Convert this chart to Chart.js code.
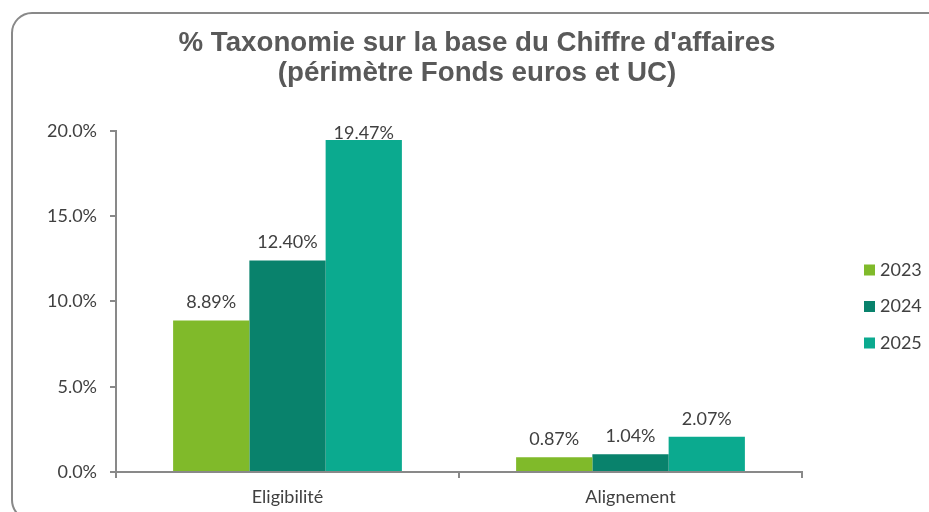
<!DOCTYPE html>
<html>
<head>
<meta charset="utf-8">
<script src="https://cdn.jsdelivr.net/npm/chart.js@4"></script>
<style>
  body { margin: 0; background: #fff; }
  canvas { display: block; }
</style>
</head>
<body>
<canvas id="grafico" width="929" height="512"></canvas>
<script>
const categorias = ["Eligibilité", "Alignement"];
const annees = ["2023", "2024", "2025"];
const valeurs2023 = [8.89, 0.87];
const valeurs2024 = [12.40, 1.04];
const valeurs2025 = [19.47, 2.07];
const couleurs = ["#80ba2a", "#09826c", "#0baa8f"];
const titre = ["% Taxonomie sur la base du Chiffre d'affaires", "(périmètre Fonds euros et UC)"];

const gris = "#898989";
const texte = "#404040";

// cadre arrondi (coupe a droite et en bas), etiquettes et legende dessines a la main
const decor = {
  id: "decor",
  beforeDraw(chart) {
    const ctx = chart.ctx;
    ctx.save();
    ctx.strokeStyle = gris;
    ctx.lineWidth = 2;
    ctx.beginPath();
    ctx.roundRect(12, 13, 940, 507, 20);
    ctx.stroke();
    ctx.restore();
  },
  afterDatasetsDraw(chart) {
    const ctx = chart.ctx;
    ctx.save();
    ctx.font = "18px Lato";
    ctx.fillStyle = texte;
    ctx.textAlign = "center";
    ctx.textBaseline = "middle";
    chart.data.datasets.forEach((ds, i) => {
      chart.getDatasetMeta(i).data.forEach((bar, j) => {
        const y = Math.max(bar.y - 18, chart.chartArea.top + 2);
        ctx.fillText(ds.data[j].toFixed(2) + "%", bar.x, y);
      });
    });
    ctx.restore();
  },
  afterDraw(chart) {
    const ctx = chart.ctx;
    ctx.save();
    ctx.font = "18px Lato";
    ctx.textBaseline = "middle";
    chart.data.datasets.forEach((ds, i) => {
      const y = 270 + i * 36.5;
      ctx.fillStyle = ds.backgroundColor;
      ctx.fillRect(864, y - 5.5, 11, 11);
      ctx.fillStyle = texte;
      ctx.fillText(ds.label, 880, y);
    });
    ctx.restore();
  }
};

new Chart(document.getElementById("grafico"), {
  type: "bar",
  data: {
    labels: categorias,
    datasets: [
      { label: annees[0], data: valeurs2023, backgroundColor: couleurs[0] },
      { label: annees[1], data: valeurs2024, backgroundColor: couleurs[1] },
      { label: annees[2], data: valeurs2025, backgroundColor: couleurs[2] },
    ],
  },
  options: {
    responsive: false,
    animation: false,
    devicePixelRatio: 1,
    layout: { padding: { left: 25, right: 0, top: 0, bottom: 0 } },
    datasets: { bar: { categoryPercentage: 0.667, barPercentage: 1.0 } },
    plugins: {
      legend: { display: false },
      tooltip: { enabled: false },
      title: {
        display: true,
        text: titre,
        color: "#595959",
        font: { family: "'Liberation Sans', Arial", size: 27.7, weight: "bold", lineHeight: 1.083 },
        padding: { top: 28.7, bottom: 42.3 },
      },
    },
    scales: {
      x: {
        afterFit(scale) { scale.height = 40; },
        border: { color: gris, width: 2 },
        grid: { drawOnChartArea: false, drawTicks: true, tickLength: 6, color: gris, lineWidth: 2 },
        ticks: { color: texte, font: { family: "Lato", size: 18 }, padding: 8 },
      },
      y: {
        min: 0,
        max: 20,
        afterFit(scale) { scale.width = 91; },
        border: { color: gris, width: 2 },
        grid: { drawOnChartArea: false, drawTicks: true, tickLength: 6, color: gris, lineWidth: 2 },
        ticks: {
          stepSize: 5,
          color: texte,
          font: { family: "Lato", size: 18 },
          padding: 13,
          callback: (v) => v.toFixed(1) + "%",
        },
      },
      // axe vide a droite: garde la place de la legende
      yVide: {
        position: "right",
        min: 0,
        max: 1,
        afterFit(scale) { scale.width = 127; },
        border: { display: false },
        grid: { display: false },
        ticks: { display: false },
      },
    },
  },
  plugins: [decor],
});
</script>
</body>
</html>
